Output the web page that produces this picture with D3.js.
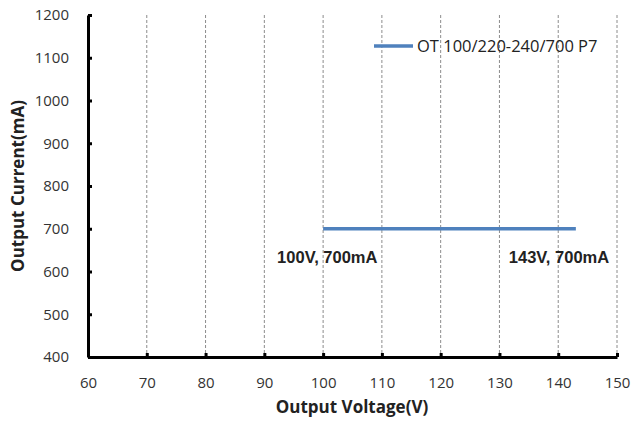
<!DOCTYPE html>
<html><head><meta charset="utf-8">
<script src="https://cdn.jsdelivr.net/npm/d3@7"></script>
<style>body{margin:0;background:#fff;}svg{display:block;}</style>
</head><body>
<svg id="c" width="633" height="423"></svg>
<script>
const seriesName = "OT 100/220-240/700 P7";
const voltage = [100, 143];
const current = [700, 700];
const xTicks = [60, 70, 80, 90, 100, 110, 120, 130, 140, 150];
const yTicks = [400, 500, 600, 700, 800, 900, 1000, 1100, 1200];
const annotations = [
  {label: "100V, 700mA", v: 100, c: 700, dx: -46},
  {label: "143V, 700mA", v: 143, c: 700, dx: -67}
];

const svg = d3.select("#c");
const L = 88, R = 617, T = 15, B = 357;
const x = d3.scaleLinear().domain([60, 150]).range([L, R]);
const y = d3.scaleLinear().domain([400, 1200]).range([B, T]);

// vertical dashed gridlines
svg.append("g").selectAll("line").data(xTicks.slice(1)).join("line")
  .attr("x1", d => x(d)).attr("x2", d => x(d))
  .attr("y1", T).attr("y2", B)
  .attr("stroke", "#8c8c8c").attr("stroke-width", 1)
  .attr("stroke-dasharray", "3,2");

const tickFont = "'Open Sans', sans-serif";
const fmt = d3.format("d");
// x axis
const xa = svg.append("g").attr("transform", `translate(0,${B})`)
  .call(d3.axisBottom(x).tickValues(xTicks).tickFormat(fmt).tickSize(-4).tickPadding(20).tickSizeOuter(0));
xa.select(".domain").attr("stroke", "#000").attr("stroke-width", 3);
xa.selectAll(".tick line").attr("stroke", "#000").attr("stroke-width", 3);
xa.selectAll("text").attr("font-family", tickFont).attr("font-size", 15).attr("fill", "#333");

// y axis
const ya = svg.append("g").attr("transform", `translate(${L},0)`)
  .call(d3.axisLeft(y).tickValues(yTicks).tickFormat(fmt).tickSize(-4).tickPadding(19).tickSizeOuter(0));
ya.select(".domain").attr("stroke", "#000").attr("stroke-width", 3);
ya.selectAll(".tick line").attr("stroke", "#000").attr("stroke-width", 3);
ya.selectAll("text").attr("font-family", tickFont).attr("font-size", 15).attr("fill", "#333");

// series line
const line = d3.line().x((d, i) => x(voltage[i])).y((d, i) => y(current[i]));
svg.append("path").datum(voltage).attr("d", line)
  .attr("fill", "none").attr("stroke", "#4F81BD").attr("stroke-width", 3.5);

// annotations
svg.append("g").selectAll("text").data(annotations).join("text")
  .attr("x", d => x(d.v) + d.dx)
  .attr("y", d => y(d.c) + 34)
  .attr("font-family", "'Liberation Sans', Arial, sans-serif")
  .attr("font-weight", "bold").attr("font-size", 16.5).attr("fill", "#222")
  .text(d => d.label);

// legend
svg.append("line").attr("x1", 374).attr("x2", 413).attr("y1", 46).attr("y2", 46)
  .attr("stroke", "#4F81BD").attr("stroke-width", 3.5);
svg.append("text").attr("x", 417).attr("y", 52)
  .attr("font-family", tickFont).attr("font-size", 16.5).attr("fill", "#222")
  .text(seriesName);

// axis titles
svg.append("text").attr("x", 352).attr("y", 413).attr("text-anchor", "middle")
  .attr("font-family", "'Open Sans', sans-serif").attr("font-weight", "bold")
  .attr("font-size", 17).attr("fill", "#222").text("Output Voltage(V)");
svg.append("text").attr("transform", `translate(24,${(T + B) / 2}) rotate(-90)`)
  .attr("text-anchor", "middle")
  .attr("font-family", "'Open Sans', sans-serif").attr("font-weight", "bold")
  .attr("font-size", 17).attr("fill", "#222").text("Output Current(mA)");
</script>
</body></html>
